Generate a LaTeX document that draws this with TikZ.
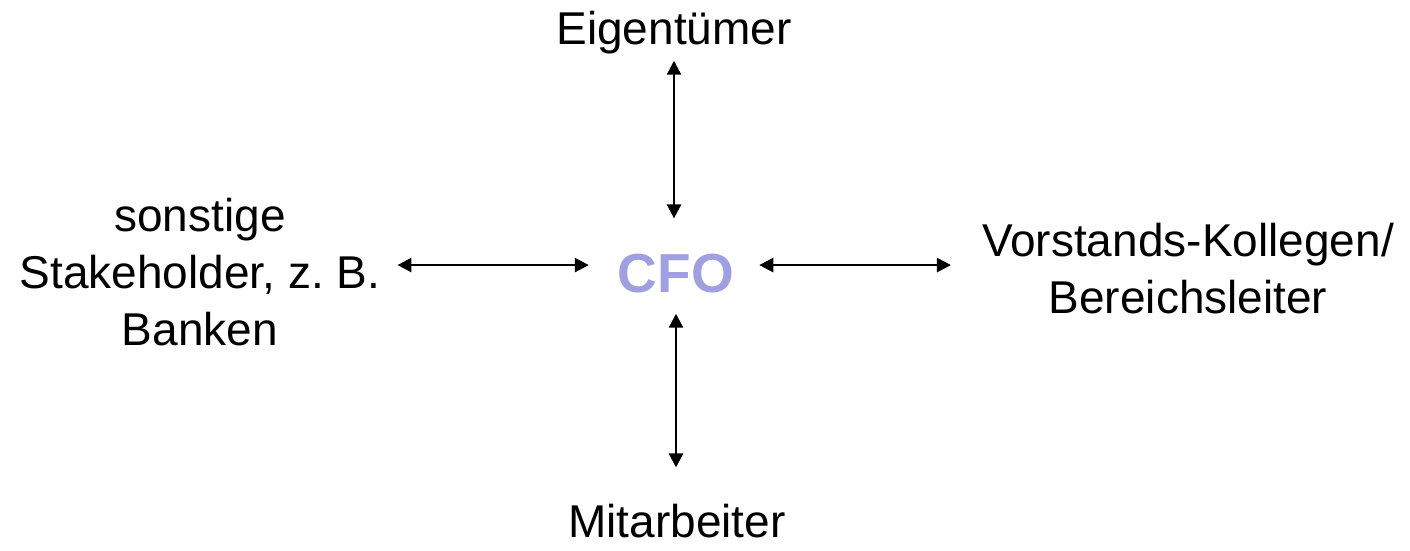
\documentclass[tikz,border=0pt]{standalone}
\usepackage{fontspec}
\setmainfont{Liberation Sans}
\usetikzlibrary{arrows.meta}
\definecolor{cfoblue}{RGB}{160,160,224}
\begin{document}
\begin{tikzpicture}[x=1pt,y=-1pt,
  lbl/.style={inner sep=0pt,font=\fontsize{46}{57}\selectfont,align=center},
  arr/.style={line width=2.5pt,{Triangle[length=14pt,width=14pt]}-{Triangle[length=14pt,width=14pt]}}]
\useasboundingbox (0,0) rectangle (1410,551);
\node[lbl,anchor=base] (eig) at (674,45) {Eigentümer};
\node[inner sep=0pt,anchor=base,text=cfoblue,font=\fontsize{55}{60}\selectfont\bfseries] (cfo) at (676,292) {CFO};
\node[lbl,anchor=base] (sth) at (200,345) {sonstige\\Stakeholder, z.\ B.\\Banken};
\node[lbl,anchor=base] (vor) at (1188,313) {Vorstands-Kollegen/\\Bereichsleiter};
\node[lbl,anchor=base] (mit) at (677,537) {Mitarbeiter};
\draw[arr,shorten <=6pt,shorten >=35pt] (eig.south) -- (eig.south |- cfo.north);
\draw[arr,shorten <=21pt,shorten >=36pt] (cfo.south) -- (cfo.south |- mit.north);
\draw[arr,shorten <=17pt,shorten >=29pt] ([yshift=8pt]cfo.west -| sth.east) -- ([yshift=8pt]cfo.west);
\draw[arr,shorten <=25pt,shorten >=31pt] ([yshift=8pt]cfo.east) -- ([yshift=8pt]cfo.east -| vor.west);
\end{tikzpicture}
\end{document}
